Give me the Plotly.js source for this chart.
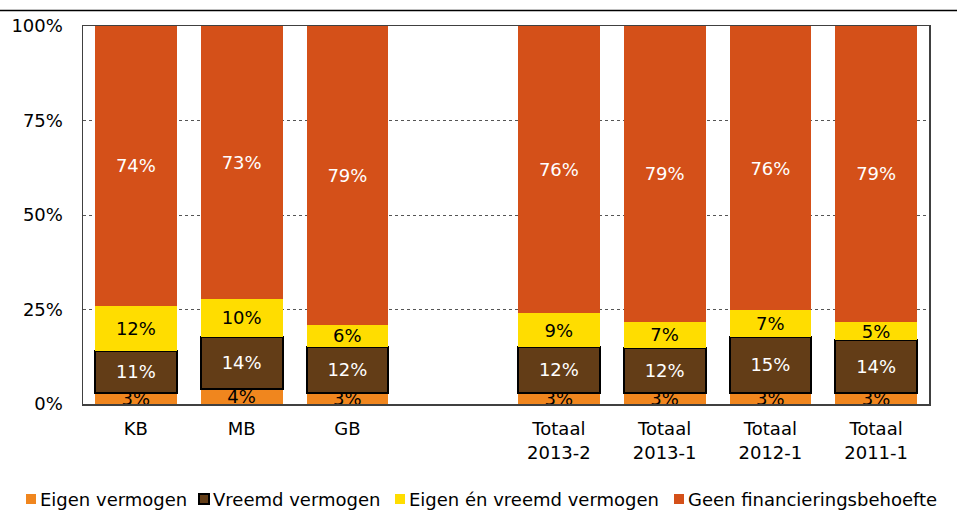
<!DOCTYPE html>
<html>
<head>
<meta charset="utf-8">
<script src="https://cdn.plot.ly/plotly-3.0.1.min.js"></script>
<style>html,body{margin:0;padding:0;background:#fff;}#chart{width:957px;height:511px;}</style>
</head>
<body>
<div id="chart"></div>
<script>
// ---- data ----
const categories = ['KB', 'MB', 'GB', ' ', 'Totaal<br>2013-2', 'Totaal<br>2013-1', 'Totaal<br>2012-1', 'Totaal<br>2011-1'];
const seriesNames = ['Eigen vermogen', 'Vreemd vermogen', 'Eigen én vreemd vermogen', 'Geen financieringsbehoefte'];
const eigenVermogen   = [3, 4, 3, null, 3, 3, 3, 3];
const vreemdVermogen  = [11, 14, 12, null, 12, 12, 15, 14];
const eigenEnVreemd   = [12, 10, 6, null, 9, 7, 7, 5];
const geenFinanciering = [74, 73, 79, null, 76, 79, 76, 79];
const yTickVals = [0, 25, 50, 75, 100];
const yTickText = ['0%', '25%', '50%', '75%', '100%'];

// ---- styles ----
const colors = ['#F0861E', '#633D17', '#FFDD00', '#D45019'];
const textColors = ['#000000', '#ffffff', '#000000', '#ffffff'];
const font = "Verdana, 'DejaVu Sans', sans-serif";
const seriesValues = [eigenVermogen, vreemdVermogen, eigenEnVreemd, geenFinanciering];

const traces = seriesValues.map((vals, i) => ({
  type: 'bar',
  name: seriesNames[i],
  x: categories,
  y: vals,
  text: vals.map(v => v === null ? '' : v + '%'),
  textposition: 'inside',
  insidetextanchor: 'middle',
  constraintext: 'none',
  textangle: 0,
  textfont: {family: font, size: 18, color: textColors[i]},
  marker: {color: colors[i], line: {color: '#000', width: i === 1 ? 2 : 0}},
  hoverinfo: 'skip',
  showlegend: false
}));

// plot area in pixels: left 83, right 929, top 26, bottom 404
const L = 83, R = 929, T = 26, B = 404;
const px = x => (x - L) / (R - L);
const py = y => (B - y) / (B - T);

const legendTextLeft = [40, 213, 409, 688];
const legendY = 499;
const annotations = seriesNames.map((n, i) => ({
  xref: 'paper', yref: 'paper',
  x: px(legendTextLeft[i] - 2), y: py(legendY),
  xanchor: 'left', yanchor: 'middle',
  text: n, showarrow: false,
  font: {family: font, size: 18, color: '#000'}
}));
const shapes = seriesNames.map((n, i) => ({
  type: 'rect', xref: 'paper', yref: 'paper',
  x0: px(legendTextLeft[i] - 14), x1: px(legendTextLeft[i] - 4),
  y0: py(legendY + 5), y1: py(legendY - 5),
  fillcolor: colors[i],
  line: {color: i === 1 ? '#000' : colors[i], width: i === 1 ? 2 : 0}
}));
shapes.push({
  type: 'line', xref: 'paper', yref: 'paper',
  x0: px(0), x1: px(957), y0: py(10.5), y1: py(10.5),
  line: {color: '#000', width: 1.5}
});

const layout = {
  width: 957, height: 511,
  margin: {l: L, r: 957 - R, t: T, b: 511 - B, pad: 0},
  paper_bgcolor: '#fff', plot_bgcolor: '#fff',
  barmode: 'stack',
  barnorm: 'percent',
  bargap: 0.227,
  font: {family: font, size: 18, color: '#000'},
  showlegend: false,
  xaxis: {
    type: 'category',
    categoryorder: 'array',
    categoryarray: categories,
    showline: true, linecolor: '#404040', linewidth: 1.5,
    mirror: true,
    ticks: '', showgrid: false,
    ticklabelstandoff: 8,
    tickfont: {family: font, size: 18, color: '#000'}
  },
  yaxis: {
    range: [0, 100],
    tickvals: yTickVals,
    ticktext: yTickText,
    showline: true, linecolor: '#404040', linewidth: 1.5,
    mirror: true,
    ticks: '',
    showgrid: true, gridcolor: '#555', griddash: 'dot', gridwidth: 1,
    zeroline: false,
    ticklabelstandoff: 15,
    tickfont: {family: font, size: 18, color: '#000'}
  },
  annotations: annotations,
  shapes: shapes
};

Plotly.newPlot('chart', traces, layout, {staticPlot: true, displayModeBar: false});
</script>
</body>
</html>
